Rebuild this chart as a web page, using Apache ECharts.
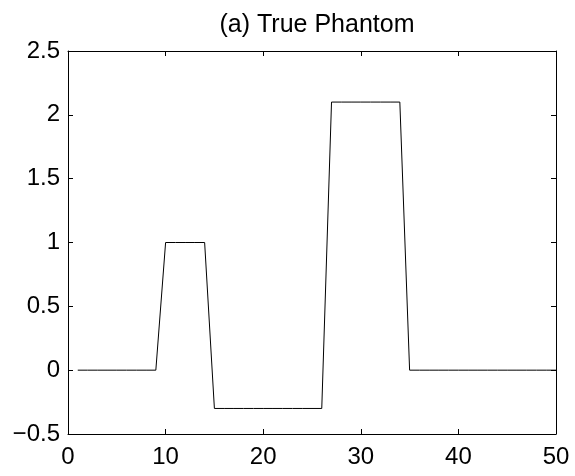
<!DOCTYPE html>
<html>
<head>
<meta charset="utf-8">
<script src="https://cdn.jsdelivr.net/npm/echarts@6/dist/echarts.min.js"></script>
<style>
  html, body { margin: 0; padding: 0; background: #fff; }
  #chart { width: 575px; height: 476px; }
</style>
</head>
<body>
<div id="chart"></div>
<script>
// Sample positions along the profile
const positions = [
  1, 2, 3, 4, 5, 6, 7, 8, 9, 10,
  11, 12, 13, 14, 15, 16, 17, 18, 19, 20,
  21, 22, 23, 24, 25, 26, 27, 28, 29, 30,
  31, 32, 33, 34, 35, 36, 37, 38, 39, 40,
  41, 42, 43, 44, 45, 46, 47, 48, 49, 50
];
// Phantom intensity at each position
const phantom = [
  0, 0, 0, 0, 0, 0, 0, 0, 0, 1,
  1, 1, 1, 1, -0.3, -0.3, -0.3, -0.3, -0.3, -0.3,
  -0.3, -0.3, -0.3, -0.3, -0.3, -0.3, 2.1, 2.1, 2.1, 2.1,
  2.1, 2.1, 2.1, 2.1, 0, 0, 0, 0, 0, 0,
  0, 0, 0, 0, 0, 0, 0, 0, 0, 0
];
const xTicks = [0, 10, 20, 30, 40, 50];
const yTicks = [-0.5, 0, 0.5, 1, 1.5, 2, 2.5];

const font = 'Liberation Sans, Arial, Helvetica, sans-serif';
const fmt = v => String(v).replace('-', '\u2212');

const chart = echarts.init(document.getElementById('chart'), null, { renderer: 'canvas' });

const baseAxis = {
  axisLine: { show: true, onZero: false, lineStyle: { color: '#000', width: 1 } },
  axisTick: { show: true, inside: true, length: 5, lineStyle: { color: '#000', width: 1 } },
  splitLine: { show: false }
};

chart.setOption({
  animation: false,
  backgroundColor: '#fff',
  title: {
    text: '(a) True Phantom',
    left: 312,
    textAlign: 'center',
    top: 8,
    textStyle: { fontFamily: font, fontSize: 25, fontWeight: 'normal', color: '#000' }
  },
  grid: { left: 68, right: 19, top: 51, bottom: 42, containLabel: false },
  xAxis: [
    Object.assign({}, baseAxis, {
      type: 'value', position: 'bottom',
      min: xTicks[0], max: xTicks[xTicks.length - 1], interval: 10,
      axisLabel: { show: true, margin: 11, fontFamily: font, fontSize: 24, color: '#000', formatter: fmt }
    }),
    Object.assign({}, baseAxis, {
      type: 'value', position: 'top',
      min: xTicks[0], max: xTicks[xTicks.length - 1], interval: 10,
      axisLabel: { show: false }
    })
  ],
  yAxis: [
    Object.assign({}, baseAxis, {
      type: 'value', position: 'left',
      min: yTicks[0], max: yTicks[yTicks.length - 1], interval: 0.5,
      axisLabel: { show: true, margin: 8, fontFamily: font, fontSize: 24, color: '#000', formatter: fmt }
    }),
    Object.assign({}, baseAxis, {
      type: 'value', position: 'right',
      min: yTicks[0], max: yTicks[yTicks.length - 1], interval: 0.5,
      axisLabel: { show: false }
    })
  ],
  series: [{
    type: 'line',
    data: positions.map((x, i) => [x, phantom[i]]),
    showSymbol: false,
    symbol: 'none',
    lineStyle: { color: '#000', width: 1 },
    xAxisIndex: 0,
    yAxisIndex: 0
  }]
});
</script>
</body>
</html>
